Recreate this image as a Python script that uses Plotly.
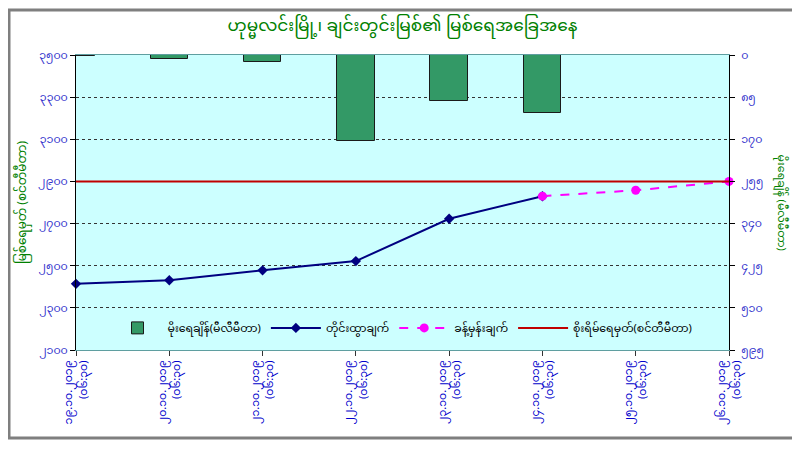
import plotly.graph_objects as go

# categorías (fecha / hora de lectura)
fechas = [
    "၁၉.၁၀.၂၀၁၉<br>(၀၆:၃၀)",
    "၂၀.၁၀.၂၀၁၉<br>(၀၆:၃၀)",
    "၂၁.၁၀.၂၀၁၉<br>(၀၆:၃၀)",
    "၂၂.၁၀.၂၀၁၉<br>(၀၆:၃၀)",
    "၂၃.၁၀.၂၀၁၉<br>(၀၆:၃၀)",
    "၂၄.၁၀.၂၀၁၉<br>(၀၆:၃၀)",
    "၂၅.၁၀.၂၀၁၉<br>(၀၆:၃၀)",
    "၂၆.၁၀.၂၀၁၉<br>(၀၆:၃၀)",
]
pos = list(range(len(fechas)))

lluvia_mm = [1, 8.6, 13.2, 173, 92.6, 117.7]
nivel_obs = [2414, 2431, 2478, 2522, 2723, 2830]
nivel_pron = [2830, 2858, 2900]
nivel_peligro = 2900

left_vals = [2100, 2300, 2500, 2700, 2900, 3100, 3300, 3500]
left_text = ["၂၁၀၀", "၂၃၀၀", "၂၅၀၀", "၂၇၀၀", "၂၉၀၀", "၃၁၀၀", "၃၃၀၀", "၃၅၀၀"]
right_vals = [0, 85, 170, 255, 340, 425, 510, 595]
right_text = ["၀", "၈၅", "၁၇၀", "၂၅၅", "၃၄၀", "၄၂၅", "၅၁၀", "၅၉၅"]

titulo = "ဟုမ္မလင်းမြို့၊ ချင်းတွင်းမြစ်၏ မြစ်ရေအခြေအနေ"
nombres = ["မိုးရေချိန်(မီလီမီတာ)", "တိုင်းထွာချက်", "ခန့်မှန်းချက်", "စိုးရိမ်ရေမှတ်(စင်တီမီတာ)"]
eje_izq = "မြစ်ရေမှတ် (စင်တီမီတာ)"
eje_der = "မိုးရေချိန် (မီလီမီတာ)"

FONT = "Noto Sans Myanmar, Padauk, Myanmar Text, Noto Sans, sans-serif"

fig = go.Figure()

fig.add_trace(go.Bar(
    x=pos[:len(lluvia_mm)], y=lluvia_mm, name=nombres[0], yaxis="y2",
    width=0.4, marker=dict(color="#339966", line=dict(color="#1a1a1a", width=1)),
))
fig.add_trace(go.Scatter(
    x=pos[:len(nivel_obs)], y=nivel_obs, name=nombres[1], mode="lines+markers",
    line=dict(color="#000080", width=2),
    marker=dict(symbol="diamond", size=8, color="#000080"),
    cliponaxis=False,
))
fig.add_trace(go.Scatter(
    x=pos[len(nivel_obs) - 1:], y=nivel_pron, name=nombres[2], mode="lines+markers",
    line=dict(color="#FF00FF", width=2, dash="dash"),
    marker=dict(symbol="circle", size=9, color="#FF00FF"),
    cliponaxis=False,
))
fig.add_trace(go.Scatter(
    x=pos, y=[nivel_peligro] * len(pos), name=nombres[3], mode="lines",
    line=dict(color="#C00000", width=2),
))

# borde del área del gráfico
fig.add_shape(type="rect", xref="paper", yref="paper",
              x0=-0.1026, x1=1.101, y0=-0.298, y1=1.1525,
              line=dict(color="#7f7f7f", width=3), layer="below")

fig.add_annotation(text=eje_der, xref="paper", yref="paper", x=1.081, y=0.5,
                   xanchor="center", showarrow=False, textangle=90,
                   font=dict(family=FONT, size=11, color="#008000"))

fig.update_layout(
    width=800, height=450,
    margin=dict(l=68, r=79, t=47, b=108),
    paper_bgcolor="white",
    plot_bgcolor="#CCFFFF",
    font=dict(family=FONT, size=11, color="#000000"),
    title=dict(text=titulo, x=0.5, xref="paper", y=0.962, yanchor="middle",
               font=dict(family=FONT, size=17, color="#008000")),
    showlegend=True,
    legend=dict(orientation="h", x=0.5, xanchor="center", y=0.075, yanchor="middle",
                bgcolor="rgba(0,0,0,0)", font=dict(size=11, color="#000000"),
                itemwidth=50, tracegroupgap=0),
    bargap=0,
    xaxis=dict(range=[0, 7], tickvals=pos, ticktext=fechas, tickangle=-90,
               showgrid=False, zeroline=False, showline=True, linecolor="#5f9ea0",
               mirror=True, ticks="outside", ticklen=5, tickcolor="#333333",
               tickfont=dict(family=FONT, size=11, color="#0000CC")),
    yaxis=dict(range=[2100, 3500], tickvals=left_vals, ticktext=left_text,
               showgrid=True, gridcolor="#333333", griddash="dot", gridwidth=1,
               zeroline=False, showline=True, linecolor="#000000", linewidth=1,
               ticks="outside", ticklen=5, tickcolor="#000000",
               tickfont=dict(family=FONT, size=11, color="#3333CC"),
               title=dict(text=eje_izq, standoff=8,
                          font=dict(family=FONT, size=12, color="#008000"))),
    yaxis2=dict(range=[595, 0], tickvals=right_vals, ticktext=right_text,
                overlaying="y", side="right", showgrid=False, zeroline=False,
                showline=True, linecolor="#000000", linewidth=1,
                ticks="outside", ticklen=5, tickcolor="#000000",
                ticklabelstandoff=4,
                tickfont=dict(family=FONT, size=11, color="#3333CC")),
)

fig.write_html("out.html")
